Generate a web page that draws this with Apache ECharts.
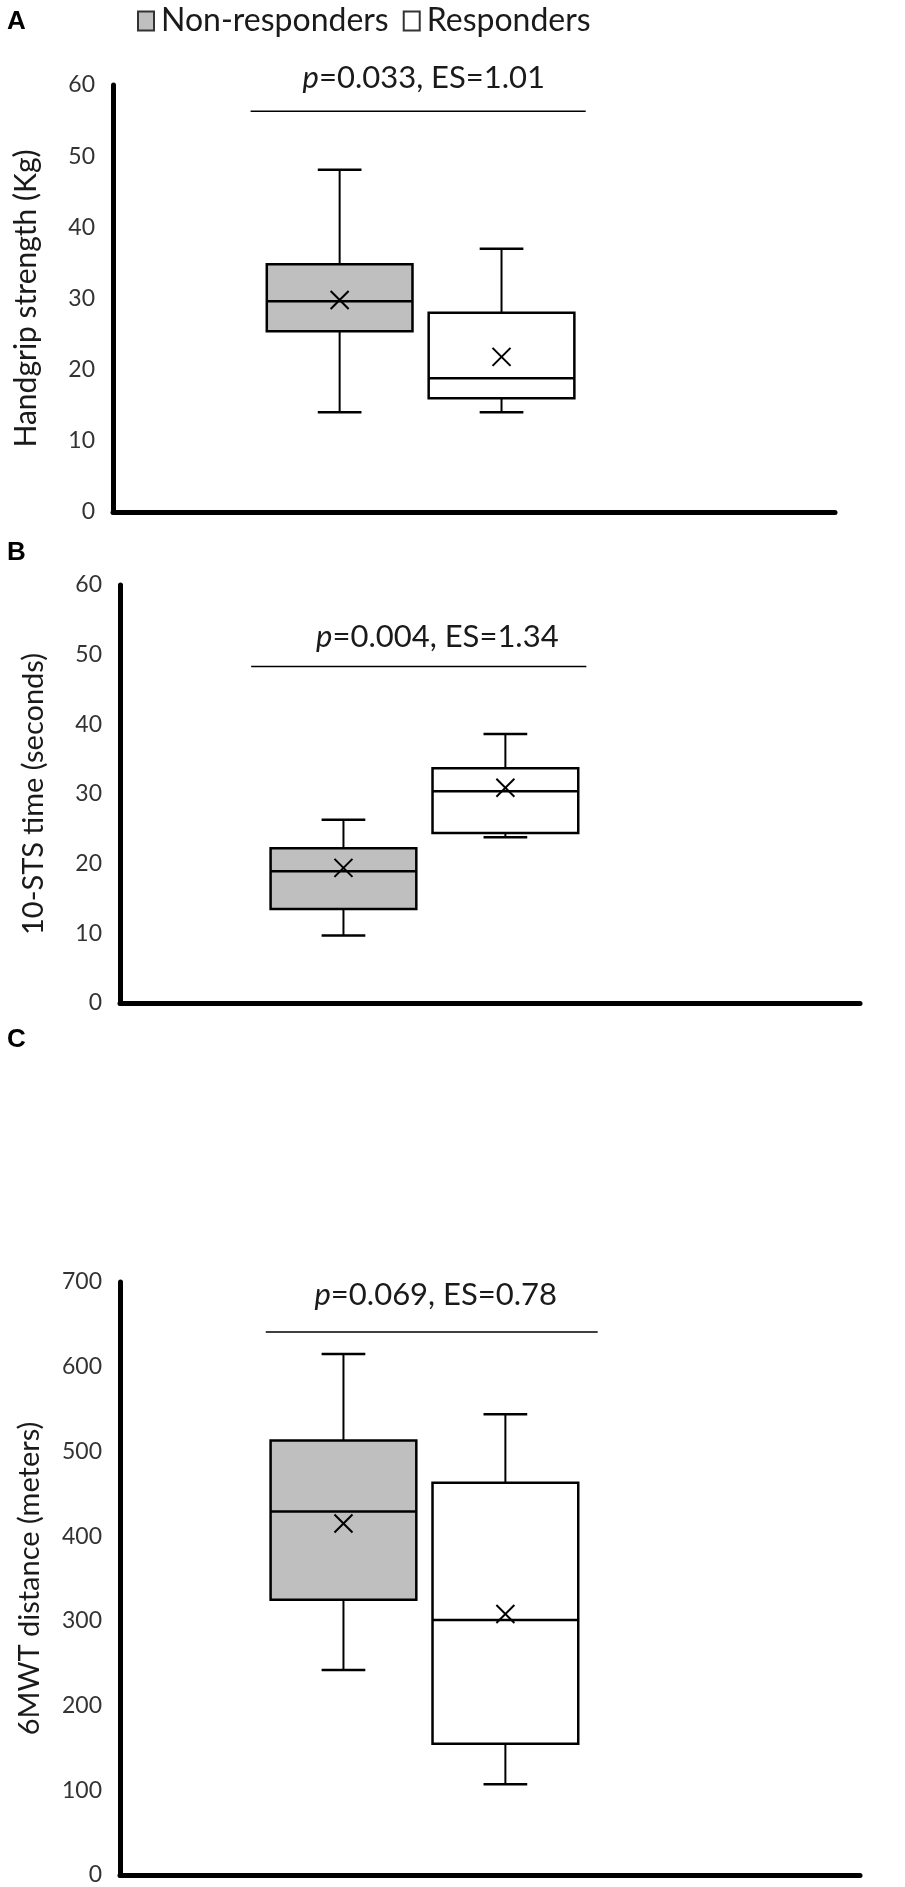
<!DOCTYPE html>
<html>
<head>
<meta charset="utf-8">
<script src="https://cdn.jsdelivr.net/npm/echarts@6/dist/echarts.min.js"></script>
<style>
  html, body { margin: 0; padding: 0; background: #fff; }
  #main { width: 905px; height: 1887px; }
</style>
</head>
<body>
<div id="main"></div>
<script>
// groups shown in every panel
var groups = ['Non-responders', 'Responders'];
var groupFill = ['#bfbfbf', '#ffffff'];

// box stats: [min, Q1, median, Q3, max]
var handgripNon = [14.0, 25.4, 29.6, 34.8, 48.1];
var handgripResp = [14.0, 16.0, 18.8, 28.0, 37.0];
var handgripMean = [29.8, 21.8];

var stsNon = [9.7, 13.5, 18.9, 22.2, 26.3];
var stsResp = [23.8, 24.4, 30.4, 33.7, 38.6];
var stsMean = [19.4, 30.9];

var walkNon = [242, 325, 429, 513, 615];
var walkResp = [107, 155, 301, 463, 544];
var walkMean = [415, 308];

// significance labels
var pValues = ['0.033', '0.004', '0.069'];
var effectSizes = ['1.01', '1.34', '0.78'];

var yNames = ['Handgrip strength (Kg)', '10-STS time (seconds)', '6MWT distance (meters)'];
var yMax = [60, 60, 700];
var yStep = [10, 10, 100];

var FONT = 'Lato';

// layout of each panel (pixels) and of the significance bar (axis units)
var panels = [
    {grid: {left: 113, top: 85, width: 722, height: 427}, xmin: -1.40, xmax: 3.06,
     bar: {x0: -0.55, x1: 1.52, y: 56.3, tx: 0.52, ty: 61.0}},
    {grid: {left: 120, top: 585, width: 740, height: 418}, xmin: -1.38, xmax: 3.19,
     bar: {x0: -0.57, x1: 1.50, y: 48.3, tx: 0.58, ty: 52.5}},
    {grid: {left: 120, top: 1282, width: 740, height: 593}, xmin: -1.38, xmax: 3.19,
     bar: {x0: -0.48, x1: 1.57, y: 641, tx: 0.57, ty: 685}}
];

var boxData = [
    [handgripNon, handgripResp, handgripMean],
    [stsNon, stsResp, stsMean],
    [walkNon, walkResp, walkMean]
];

function renderBox(params, api) {
    var x = api.value(0);
    var unit = api.size([1, 0])[0];
    var hw = unit * 0.45, cw = unit * 0.135;
    var cx = api.coord([x, 0])[0];
    var y = function (i) { return api.coord([x, api.value(i)])[1]; };
    var yLo = y(1), yQ1 = y(2), yMed = y(3), yQ3 = y(4), yHi = y(5), yMean = y(6);
    var line = {stroke: '#000', lineWidth: 2};
    var m = 9;
    return {
        type: 'group',
        children: [
            {type: 'line', shape: {x1: cx, y1: yHi, x2: cx, y2: yQ3}, style: line},
            {type: 'line', shape: {x1: cx, y1: yLo, x2: cx, y2: yQ1}, style: line},
            {type: 'line', shape: {x1: cx - cw, y1: yHi, x2: cx + cw, y2: yHi}, style: {stroke: '#000', lineWidth: 2.5}},
            {type: 'line', shape: {x1: cx - cw, y1: yLo, x2: cx + cw, y2: yLo}, style: {stroke: '#000', lineWidth: 2.5}},
            {type: 'rect', shape: {x: cx - hw, y: yQ3, width: hw * 2, height: yQ1 - yQ3},
             style: {fill: api.visual('color'), stroke: '#000', lineWidth: 2.5}},
            {type: 'line', shape: {x1: cx - hw, y1: yMed, x2: cx + hw, y2: yMed}, style: {stroke: '#000', lineWidth: 2.5}},
            {type: 'line', shape: {x1: cx - m, y1: yMean - m, x2: cx + m, y2: yMean + m}, style: line},
            {type: 'line', shape: {x1: cx - m, y1: yMean + m, x2: cx + m, y2: yMean - m}, style: line}
        ]
    };
}

function renderBar(params, api) {
    var p1 = api.coord([api.value(0), api.value(2)]);
    var p2 = api.coord([api.value(1), api.value(2)]);
    var pt = api.coord([api.value(3), api.value(4)]);
    var k = api.value(5);
    return {
        type: 'group',
        children: [
            {type: 'line', shape: {x1: p1[0], y1: p1[1], x2: p2[0], y2: p2[1]},
             style: {stroke: '#000', lineWidth: 1.5}},
            {type: 'text', x: pt[0], y: pt[1],
             style: {text: '{i|p}=' + pValues[k] + ', ES=' + effectSizes[k],
                     fontFamily: FONT, fontSize: 31, fill: '#1a1a1a', align: 'center', verticalAlign: 'middle',
                     rich: {i: {fontStyle: 'italic', fontFamily: FONT, fontSize: 31, fill: '#1a1a1a'}}}}
        ]
    };
}

var grids = [], xAxes = [], yAxes = [], series = [], titles = [];
var letters = ['A', 'B', 'C'];
var letterTop = [4, 535, 1022];

panels.forEach(function (pn, i) {
    grids.push(pn.grid);
    xAxes.push({
        type: 'value', gridIndex: i, min: pn.xmin, max: pn.xmax,
        axisLine: {show: true, onZero: false, lineStyle: {color: '#000', width: 5}},
        axisTick: {show: false}, axisLabel: {show: false}, splitLine: {show: false}
    });
    yAxes.push({
        type: 'value', gridIndex: i, min: 0, max: yMax[i], interval: yStep[i],
        name: yNames[i], nameLocation: 'middle', nameGap: i === 2 ? 76 : 72, nameRotate: 90,
        nameTextStyle: {fontFamily: FONT, fontSize: i === 0 ? 30 : 29, color: '#1a1a1a'},
        axisLine: {show: true, onZero: false, lineStyle: {color: '#000', width: 5}},
        axisTick: {show: false},
        axisLabel: {fontFamily: FONT, fontSize: 23, color: '#333', margin: 18},
        splitLine: {show: false}
    });
    titles.push({text: letters[i], left: 2, top: letterTop[i],
        textStyle: {fontFamily: 'Liberation Sans', fontWeight: 'bold', fontSize: 26, color: '#000'}});
});

// box series, one per panel
boxData.forEach(function (bd, i) {
    series.push({
        type: 'custom', xAxisIndex: i, yAxisIndex: i, renderItem: renderBox, silent: true,
        data: [0, 1].map(function (g) {
            return {value: [g].concat(bd[g]).concat([bd[2][g]]), itemStyle: {color: groupFill[g]}};
        })
    });
});

// legend carriers
series.push({name: groups[0], type: 'bar', data: [], xAxisIndex: 0, yAxisIndex: 0,
    itemStyle: {color: groupFill[0], borderColor: '#333', borderWidth: 2}});
series.push({name: groups[1], type: 'bar', data: [], xAxisIndex: 0, yAxisIndex: 0,
    itemStyle: {color: groupFill[1], borderColor: '#333', borderWidth: 2}});

// significance bars
panels.forEach(function (pn, i) {
    var b = pn.bar;
    series.push({
        type: 'custom', xAxisIndex: i, yAxisIndex: i, renderItem: renderBar, silent: true,
        data: [[b.x0, b.x1, b.y, b.tx, b.ty, i]]
    });
});

var chart = echarts.init(document.getElementById('main'), null, {renderer: 'canvas'});
chart.setOption({
    animation: false,
    backgroundColor: '#fff',
    title: titles,
    legend: {
        left: 132, top: 0, itemWidth: 16, itemHeight: 19, itemGap: 14,
        icon: 'rect',
        textStyle: {fontFamily: FONT, fontSize: 32, color: '#1a1a1a', padding: [0, 0, 0, 2]},
        data: [
            {name: groups[0], itemStyle: {color: groupFill[0], borderColor: '#333', borderWidth: 2}},
            {name: groups[1], itemStyle: {color: groupFill[1], borderColor: '#333', borderWidth: 2}}
        ]
    },
    grid: grids,
    xAxis: xAxes,
    yAxis: yAxes,
    series: series
});
</script>
</body>
</html>
